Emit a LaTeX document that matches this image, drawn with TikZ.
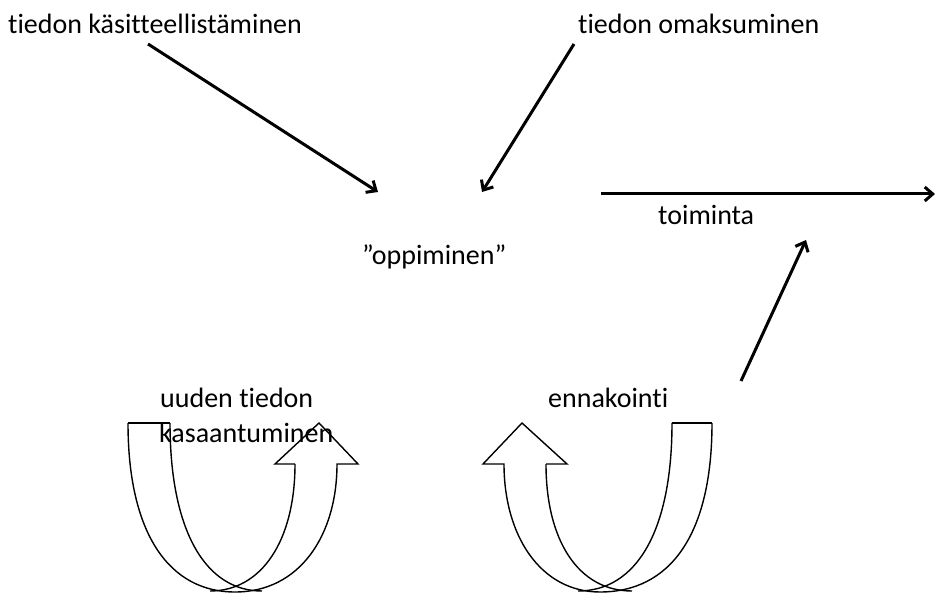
\documentclass[tikz,border=0pt]{standalone}
\usepackage{fontspec}
\setmainfont{Carlito}[Ligatures=NoCommon]
\usetikzlibrary{arrows.meta,positioning}
\tikzset{
    x=1pt, y=-1pt, % one unit per pixel of the slide, y runs downwards
    }

\begin{document}
\begin{tikzpicture}[
txt/.style={font=\fontsize{28}{34}\selectfont, inner sep=0pt, anchor=base west},
flow/.style={line width=3pt, -{Straight Barb[length=8pt,width=14pt,line width=3pt]}},
uturn/.style={draw=black, line width=1.4pt, line join=miter},
]
\useasboundingbox (0,0) rectangle (935,593);

% the two U-turn arrows
\draw[uturn] (128,423) -- (170,423);
\draw[uturn] (128,423) .. controls (128,535) and (170,592) .. (235,592)
  .. controls (300,592) and (337,535) .. (337,464) -- (358,464) -- (319,423)
  -- (275,464) -- (295,464);
\draw[uturn] (170,423) .. controls (170,530) and (205,591) .. (262,591);
\draw[uturn] (295,464) .. controls (295,540) and (262,591) .. (210,591);

\draw[uturn] (672,423) -- (712,423);
\draw[uturn] (712,423) .. controls (712,535) and (670,592) .. (600,592)
  .. controls (540,592) and (504,535) .. (504,464) -- (483,464) -- (522,423)
  -- (567,464) -- (546,464);
\draw[uturn] (672,423) .. controls (672,530) and (637,591) .. (578,591);
\draw[uturn] (546,464) .. controls (546,540) and (578,591) .. (632,591);

% texts
\node[txt] (kasitt) at (8,34) {tiedon käsitteellistäminen};
\node[txt] (omaks) at (578,34) {tiedon omaksuminen};
\node[txt] (oppim) at (362,265) {”oppiminen”};
\node[txt] (toim) at (658,225) {toiminta};
\node[txt] (uuden) at (160,408) {uuden tiedon};
\node[txt] (kasaan) at (159,443) {kasaantuminen};
\node[txt] (ennak) at (548,408) {ennakointi};

% arrow ends
\coordinate (k1) at (148,44);
\coordinate (k2) at (378,192);
\coordinate (o1) at (574,44);
\coordinate (o2) at (482,192);
\coordinate (t1) at (601,194);
\coordinate (t2) at (935,194);
\coordinate (e1) at (741,381);
\coordinate (e2) at (806,240);

\draw[flow] (k1) -- (k2);
\draw[flow] (o1) -- (o2);
\draw[flow] (t1) -- (t2);
\draw[flow] (e1) -- (e2);
\end{tikzpicture}
\end{document}
